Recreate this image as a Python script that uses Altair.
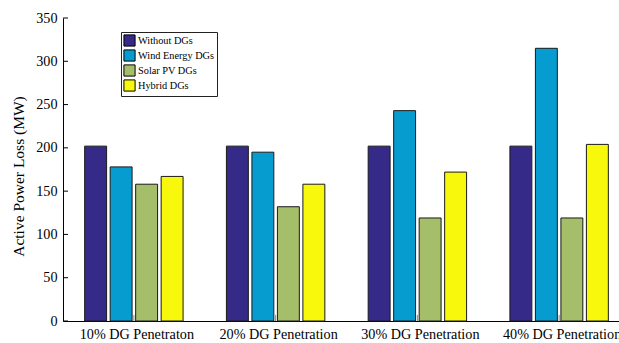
import altair as alt
import pandas as pd

# Penetration levels (x groups) and DG scenarios (bars within a group)
groups = ["10% DG Penetraton", "20% DG Penetration", "30% DG Penetration", "40% DG Penetration"]
series = ["Without DGs", "Wind Energy DGs", "Solar PV DGs", "Hybrid DGs"]

# Active power loss (MW) per scenario, one value per penetration level
without_dgs = [202, 202, 202, 202]
wind_dgs = [178, 195, 243, 315]
solar_dgs = [158, 132, 119, 119]
hybrid_dgs = [167, 158, 172, 204]

y_ticks = [0, 50, 100, 150, 200, 250, 300, 350]
colors = ["#352a87", "#079ccf", "#a5be6a", "#f8f80d"]

rows = []
for name, vals in zip(series, [without_dgs, wind_dgs, solar_dgs, hybrid_dgs]):
    for g, v in zip(groups, vals):
        rows.append({"group": g, "series": name, "value": v})
df = pd.DataFrame(rows)

FONT = "Liberation Serif, Times New Roman, serif"

x_scale = alt.Scale(domain=groups, range=[0, 567], paddingInner=0, paddingOuter=0)
y_scale = alt.Scale(domain=[0, 350], nice=False)

x_axis = alt.Axis(title=None, labelAngle=0, labelFont=FONT, labelFontSize=14.2,
                  labelColor="black", tickSize=0, labelPadding=6, labelOffset=3,
                  domainColor="black", domainWidth=1)
y_axis = alt.Axis(values=y_ticks, grid=False, tickSize=0, labelPadding=6,
                  labelFont=FONT, labelFontSize=14.2, labelColor="black",
                  domainColor="black", domainWidth=1,
                  title="Active Power Loss (MW)", titleFont=FONT,
                  titleFontSize=15.5, titleFontWeight="normal", titleColor="black",
                  titleY=158, titleX=-37, titleAlign="center", titleAngle=270,
                  titleBaseline="bottom")

bars = alt.Chart(df).mark_bar(stroke="#1a1a1a", strokeWidth=1).encode(
    x=alt.X("group:N", sort=groups, scale=x_scale, axis=x_axis),
    xOffset=alt.XOffset("series:N", sort=series,
                        scale=alt.Scale(paddingInner=0.14, paddingOuter=0.85)),
    y=alt.Y("value:Q", scale=y_scale, axis=y_axis),
    color=alt.Color("series:N", sort=series,
                    scale=alt.Scale(domain=series, range=colors),
                    legend=alt.Legend(title=None, orient="none", legendX=58, legendY=14,
                                      fillColor="white", strokeColor="#222",
                                      padding=2, symbolType="square", symbolSize=125,
                                      symbolStrokeColor="black", symbolStrokeWidth=1,
                                      symbolOpacity=1,
                                      labelFont=FONT, labelFontSize=10.3, labelColor="black",
                                      labelOffset=2, rowPadding=-2.3)),
)

# inward-pointing tick marks on the value axis
ytick_df = pd.DataFrame({"value": y_ticks})
yticks = alt.Chart(ytick_df).mark_rule(color="black", strokeWidth=1).encode(
    y=alt.Y("value:Q", scale=y_scale, axis=y_axis),
    x=alt.value(0),
    x2=alt.value(5),
)

# small inward ticks at each group centre on the category axis
xtick_df = pd.DataFrame({"group": groups})
xticks = alt.Chart(xtick_df).mark_rule(color="#888888", strokeWidth=1).encode(
    x=alt.X("group:N", sort=groups, scale=x_scale, axis=x_axis),
    y=alt.value(303),
    y2=alt.value(297),
)

chart = alt.layer(bars, xticks, yticks).properties(
    width=556, height=303,
    background="white",
    autosize=alt.AutoSizeParams(type="none"),
    padding={"left": 63, "top": 18, "right": 0, "bottom": 22},
).configure_view(stroke=None)

chart.save("out.html", embed_options={"renderer": "svg", "actions": False})
